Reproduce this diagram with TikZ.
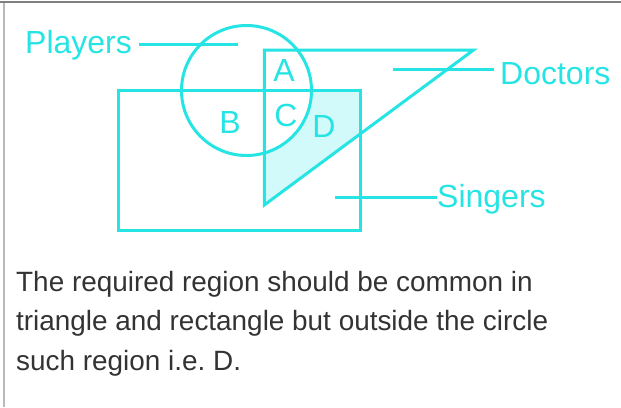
\documentclass[tikz,border=0pt]{standalone}
\usepackage{fontspec}
\setmainfont{Liberation Sans}
\usetikzlibrary{positioning}
\definecolor{venn}{RGB}{38,228,228}
\definecolor{vennfill}{RGB}{210,250,250}
\definecolor{body}{HTML}{333333}
\definecolor{frame}{HTML}{808080}
\frenchspacing

\begin{document}
\begin{tikzpicture}[x=1pt, y=-1pt,
      setline/.style={draw=venn, line width=3pt},
      lead/.style={draw=venn, line width=3pt},
      lbl/.style={font=\fontsize{32}{32}\selectfont, color=venn, inner sep=0pt},
      txt/.style={font=\fontsize{27.9}{30}\selectfont, color=body,
        inner sep=0pt, anchor=base west}]

    \useasboundingbox (0,0) rectangle (621,407);
    \draw[frame, line width=2pt] (0,1.5) -- (621,1.5);
    \draw[frame!55, line width=2pt] (4.3,2.5) -- (4.3,407);

    % region D: triangle and rectangle, outside the circle
    \begin{scope}
      \clip (264.3,50) -- (473.5,50) -- (264.3,205) -- cycle;
      \clip (118,90) rectangle (360,230.5);
      \fill[vennfill, even odd rule] (118,90) rectangle (360,230.5)
        (246.5,90.5) circle[radius=65];
    \end{scope}

    \draw[setline] (246.5,90.5) circle[radius=65];
    \draw[setline] (118,90) rectangle (360,230.5);
    \draw[setline, line join=miter]
      (264.3,50) -- (473.5,50) -- (264.3,205) -- cycle;

    \node[lbl, anchor=base west] (players) at (25,53.3) {Players};
    \node[lbl, anchor=base west] (doctors) at (500,84.3) {Doctors};
    \node[lbl, anchor=base west] (singers) at (437,207.3) {Singers};

    \coordinate (plEnd) at (238,44);
    \coordinate (dcEnd) at (393,69.3);
    \coordinate (sgEnd) at (335,197.3);
    \draw[lead] ([xshift=7pt]plEnd -| players.east) -- (plEnd);
    \draw[lead] ([xshift=-6pt]dcEnd -| doctors.west) -- (dcEnd);
    \draw[lead] (sgEnd -| singers.west) -- (sgEnd);

    \node[lbl] (regA) at (284,70) {A};
    \node[lbl] (regB) at (230,122.7) {B};
    \node[lbl] (regC) at (286,115) {C};
    \node[lbl] (regD) at (324,126) {D};

    \node[txt] (line1) at (16,291) {The required region should be common in};
    \node[txt] (line2) at (16,330.5) {triangle and rectangle but outside the circle};
    \node[txt] (line3) at (16,370) {such region i.e. D.};
  \end{tikzpicture}
\end{document}
